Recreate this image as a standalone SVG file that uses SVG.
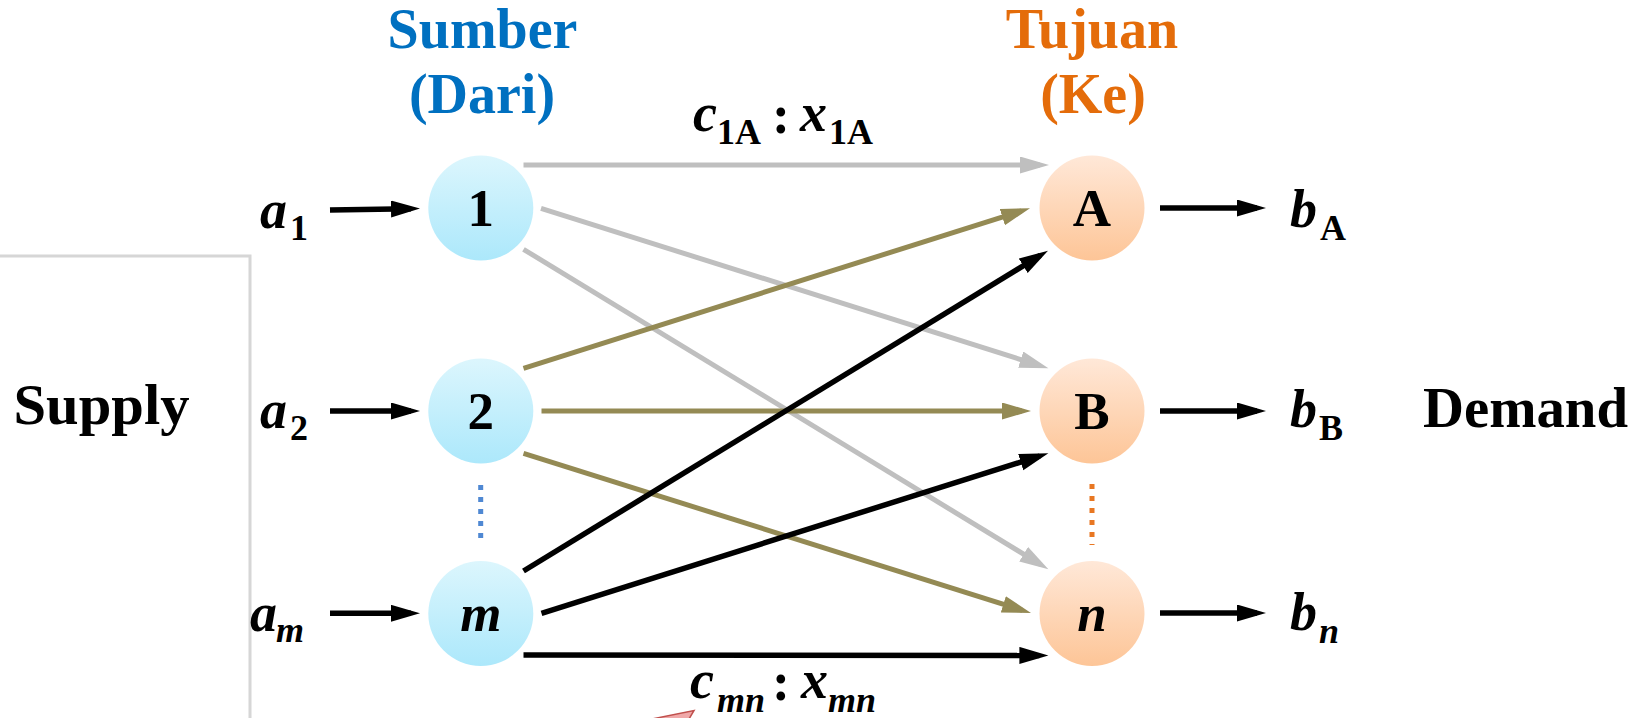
<svg xmlns="http://www.w3.org/2000/svg" width="1643" height="718" viewBox="0 0 1643 718">
<style>
  .lbl{font-family:"Liberation Serif","Times New Roman",serif;font-weight:bold;fill:#000}
  .it{font-style:italic}
  .title{font-size:56px;text-anchor:middle}
  .node{font-size:53px;text-anchor:middle}
  .main{font-size:54px}
  .sub{font-size:36px}
  .gray{stroke:#bfbfbf;stroke-width:5;fill:none}
  .olive{stroke:#948a54;stroke-width:5;fill:none}
  .blk{stroke:#000;stroke-width:5.5;fill:none}
</style>
<defs>
  <linearGradient id="gSrc" x1="0" y1="0" x2="0" y2="1">
    <stop offset="0" stop-color="#dcf6fd"/>
    <stop offset="1" stop-color="#ace8fb"/>
  </linearGradient>
  <linearGradient id="gDst" x1="0" y1="0" x2="0" y2="1">
    <stop offset="0" stop-color="#ffe8d8"/>
    <stop offset="1" stop-color="#fdc597"/>
  </linearGradient>
  <marker id="mGray" markerUnits="userSpaceOnUse" markerWidth="30" markerHeight="18" refX="20" refY="8.5" orient="auto">
    <path d="M0,0 L29,8.5 L0,17 z" fill="#bfbfbf"/>
  </marker>
  <marker id="mOlive" markerUnits="userSpaceOnUse" markerWidth="30" markerHeight="18" refX="20" refY="8.5" orient="auto">
    <path d="M0,0 L29,8.5 L0,17 z" fill="#948a54"/>
  </marker>
  <marker id="mBlk" markerUnits="userSpaceOnUse" markerWidth="30" markerHeight="18" refX="20" refY="8.5" orient="auto">
    <path d="M0,0 L29,8.5 L0,17 z" fill="#000"/>
  </marker>
</defs>
<rect width="1643" height="718" fill="#fff"/>

<!-- frame on the left -->
<path d="M0,256 H250 V718" fill="none" stroke="#d6d6d6" stroke-width="3"/>

<!-- headers -->
<g id="hdr-src">
  <text class="lbl title" x="482.5" y="48" style="fill:#0070c0">Sumber</text>
  <text class="lbl title" x="482" y="113" style="fill:#0070c0">(Dari)</text>
</g>
<g id="hdr-dst">
  <text class="lbl title" x="1092" y="48" style="fill:#e46c0a">Tujuan</text>
  <text class="lbl title" x="1093" y="113" style="fill:#e46c0a">(Ke)</text>
</g>
<g id="supply"><text class="lbl title" x="101.5" y="424" textLength="176" lengthAdjust="spacingAndGlyphs">Supply</text></g>
<g id="demand"><text class="lbl title" x="1525.5" y="427" textLength="205" lengthAdjust="spacingAndGlyphs">Demand</text></g>

<!-- connectors -->
<g id="connectors">
  <line class="gray" x1="523.5" y1="165" x2="1040" y2="165" marker-end="url(#mGray)"/>
  <line class="gray" x1="541" y1="208.3" x2="1039.8" y2="365.6" marker-end="url(#mGray)"/>
  <line class="gray" x1="523.5" y1="249.3" x2="1040.7" y2="564.6" marker-end="url(#mGray)"/>
  <line class="olive" x1="523.5" y1="368.3" x2="1021.4" y2="211" marker-end="url(#mOlive)"/>
  <line class="olive" x1="541.5" y1="411" x2="1022" y2="411" marker-end="url(#mOlive)"/>
  <line class="olive" x1="523.5" y1="453.3" x2="1022.4" y2="610.3" marker-end="url(#mOlive)"/>
  <line class="blk" x1="523.5" y1="571" x2="1040.3" y2="255.4" marker-end="url(#mBlk)"/>
  <line class="blk" x1="541.5" y1="613.3" x2="1039.8" y2="456" marker-end="url(#mBlk)"/>
  <line class="blk" x1="523.5" y1="655" x2="1039.4" y2="655.4" marker-end="url(#mBlk)"/>
  <line class="blk" x1="330" y1="210" x2="411" y2="208.7" marker-end="url(#mBlk)"/>
  <line class="blk" x1="330" y1="411" x2="411" y2="411" marker-end="url(#mBlk)"/>
  <line class="blk" x1="330" y1="613.3" x2="411" y2="613.3" marker-end="url(#mBlk)"/>
  <line class="blk" x1="1160" y1="208" x2="1257" y2="208" marker-end="url(#mBlk)"/>
  <line class="blk" x1="1160" y1="411" x2="1257" y2="411" marker-end="url(#mBlk)"/>
  <line class="blk" x1="1160" y1="613" x2="1257" y2="613" marker-end="url(#mBlk)"/>
  <line x1="480.7" y1="485" x2="480.7" y2="545" stroke="#4f88d3" stroke-width="5" stroke-dasharray="5 7"/>
  <line x1="1092" y1="484" x2="1092" y2="545" stroke="#e87722" stroke-width="5" stroke-dasharray="5 7"/>
</g>

<!-- source nodes -->
<g id="node-1">
  <circle cx="480.8" cy="208" r="52.5" fill="url(#gSrc)"/>
  <text class="lbl node" x="480.8" y="226">1</text>
</g>
<g id="node-2">
  <circle cx="480.8" cy="411" r="52.5" fill="url(#gSrc)"/>
  <text class="lbl node" x="480.8" y="429">2</text>
</g>
<g id="node-m">
  <circle cx="480.8" cy="613.5" r="52.5" fill="url(#gSrc)"/>
  <text class="lbl node it" x="480.8" y="631">m</text>
</g>

<!-- destination nodes -->
<g id="node-A">
  <circle cx="1092" cy="208" r="52.5" fill="url(#gDst)"/>
  <text class="lbl node" x="1092" y="226">A</text>
</g>
<g id="node-B">
  <circle cx="1092" cy="411" r="52.5" fill="url(#gDst)"/>
  <text class="lbl node" x="1092" y="429">B</text>
</g>
<g id="node-n">
  <circle cx="1092" cy="613.5" r="52.5" fill="url(#gDst)"/>
  <text class="lbl node it" x="1092" y="631">n</text>
</g>

<!-- supply labels -->
<g id="lbl-a1"><text class="lbl main it" x="260" y="228">a</text><text class="lbl sub" x="290" y="240">1</text></g>
<g id="lbl-a2"><text class="lbl main it" x="260" y="428">a</text><text class="lbl sub" x="290" y="440">2</text></g>
<g id="lbl-am"><text class="lbl main it" x="250" y="631">a</text><text class="lbl sub it" x="276" y="642">m</text></g>

<!-- demand labels -->
<g id="lbl-bA"><text class="lbl main it" x="1290" y="227">b</text><text class="lbl sub" x="1320" y="240">A</text></g>
<g id="lbl-bB"><text class="lbl main it" x="1290" y="427">b</text><text class="lbl sub" x="1319" y="440">B</text></g>
<g id="lbl-bn"><text class="lbl main it" x="1290" y="630">b</text><text class="lbl sub it" x="1319" y="643">n</text></g>

<!-- edge labels -->
<g id="lbl-c1A">
  <text class="lbl main it" x="693" y="131">c</text>
  <text class="lbl sub" x="717" y="144">1A</text>
  <text class="lbl main" x="772" y="133">:</text>
  <text class="lbl main it" x="800" y="131">x</text>
  <text class="lbl sub" x="829" y="144">1A</text>
</g>
<g id="lbl-cmn">
  <text class="lbl main it" x="690" y="698">c</text>
  <text class="lbl sub it" x="717" y="712">mn</text>
  <text class="lbl main" x="772" y="700">:</text>
  <text class="lbl main it" x="801" y="698">x</text>
  <text class="lbl sub it" x="828" y="712">mn</text>
</g>

<!-- cropped red callout tip -->
<polygon points="652,719 694,710.5 689,719" fill="#f0a8a8" stroke="#c0504d" stroke-width="1.5"/>
</svg>
